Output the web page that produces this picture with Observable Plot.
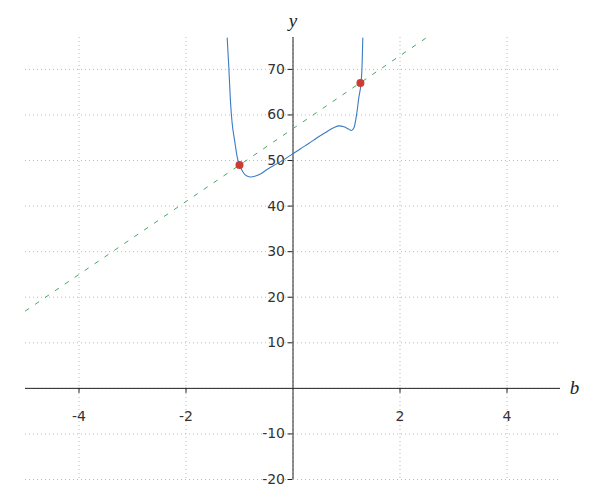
<!DOCTYPE html>
<html><head><meta charset="utf-8">
<script src="https://cdn.jsdelivr.net/npm/d3@7"></script>
<script src="https://cdn.jsdelivr.net/npm/@observablehq/plot@0.6"></script>
<style>body{margin:0;background:#fff;}</style>
</head><body><div id="chart"></div>
<script>
const curveX = [-1.23, -1.20, -1.17, -1.14, -1.09, -1.04, -0.99, -0.92, -0.86, -0.79, -0.70, -0.60, -0.48, -0.33, -0.17, 0, 0.14, 0.30, 0.45, 0.60, 0.76, 0.86, 0.95, 1.04, 1.09, 1.14, 1.19, 1.23, 1.27, 1.29, 1.305];
const curveY = [76.9, 70.6, 63.2, 58.5, 54.3, 50.6, 48.8, 47.2, 46.6, 46.4, 46.6, 47.1, 48.1, 49.1, 50.2, 51.5, 52.6, 53.8, 55.0, 56.1, 57.2, 57.6, 57.4, 56.9, 56.6, 57.2, 60.2, 63.8, 66.9, 70.4, 76.9];
const lineX = [-5, 2.5];
const lineY = [17, 77];
const pointX = [-1.0, 1.26];
const pointY = [49, 67];
const xTicks = [-4, -2, 2, 4];
const yTicks = [-20, -10, 10, 20, 30, 40, 50, 60, 70];
const xGrid = [-4, -2, 0, 2, 4];
const yGrid = [-20, -10, 0, 10, 20, 30, 40, 50, 60, 70];
const xLabel = "b";
const yLabel = "y";

const curve = curveX.map((x, i) => ({x, y: curveY[i]}));
const line = lineX.map((x, i) => ({x, y: lineY[i]}));
const pts = pointX.map((x, i) => ({x, y: pointY[i]}));

const tickFont = {fontFamily: "DejaVu Sans", fontSize: 14, fill: "#333"};
const gridStyle = {stroke: "#bbb", strokeDasharray: "1,3", strokeWidth: 1};

const chart = Plot.plot({
  width: 600,
  height: 500,
  marginLeft: 25,
  marginRight: 40,
  marginTop: 37,
  marginBottom: 21,
  x: {domain: [-5, 5], axis: null},
  y: {domain: [-20, 77], axis: null},
  style: {background: "#fff"},
  marks: [
    Plot.ruleX(xGrid, {x: d => d, ...gridStyle}),
    Plot.ruleY(yGrid, {y: d => d, ...gridStyle}),
    Plot.ruleY([0], {y: d => d, stroke: "#222", strokeWidth: 1}),
    Plot.ruleX([0], {x: d => d, stroke: "#222", strokeWidth: 1}),
    Plot.ruleX(xTicks, {x: d => d, y1: () => 0, y2: () => 0, insetBottom: -5, stroke: "#222"}),
    Plot.ruleY(yTicks, {y: d => d, x1: () => 0, x2: () => 0, insetLeft: -5, stroke: "#222"}),
    Plot.text(xTicks, {x: d => d, y: () => 0, dy: 28, text: d => String(d), ...tickFont}),
    Plot.text(yTicks, {x: () => 0, y: d => d, dx: -8, textAnchor: "end", text: d => String(d), ...tickFont}),
    Plot.text([xLabel], {x: () => 5, y: () => 0, dx: 14, text: d => d, fontFamily: "Liberation Serif", fontStyle: "italic", fontSize: 19, fill: "#222", textAnchor: "middle"}),
    Plot.text([yLabel], {x: () => 0, y: () => 77, dy: -17, text: d => d, fontFamily: "Liberation Serif", fontStyle: "italic", fontSize: 19, fill: "#222", textAnchor: "middle"}),
    Plot.line(line, {x: "x", y: "y", stroke: "#4aa564", strokeWidth: 1, strokeDasharray: "4,8"}),
    Plot.line(curve, {x: "x", y: "y", stroke: "#3b7ac4", strokeWidth: 1.1, curve: "monotone-x"}),
    Plot.dot(pts, {x: "x", y: "y", r: 4, fill: "#cc3c33", stroke: "none"})
  ]
});
document.getElementById("chart").appendChild(chart);
</script>
</body></html>
